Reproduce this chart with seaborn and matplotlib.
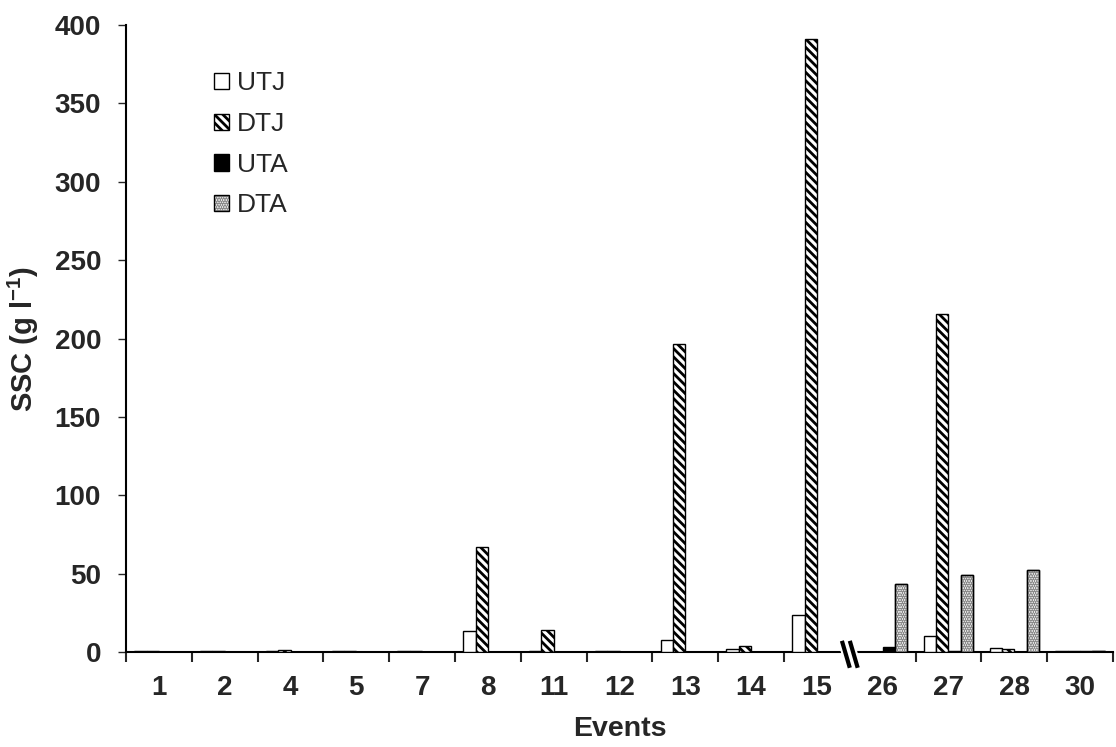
import numpy as np
import pandas as pd
import matplotlib
matplotlib.use("Agg")
import matplotlib.pyplot as plt
import seaborn as sns
from matplotlib.patches import Patch

events = ["1", "2", "4", "5", "7", "8", "11", "12", "13", "14", "15", "26", "27", "28", "30"]
sites = ["UTJ", "DTJ", "UTA", "DTA"]
nan = np.nan
utj = [0.6, 0.6, 0.5, 0.6, 0.6, 13.5, 0.6, 0.6, 8.0, 1.7, 24.0, nan, 10.0, 2.5, 0.5]
dtj = [0.6, 0.6, 1.5, 0.6, 0.6, 67.0, 14.0, 0.6, 196.5, 3.8, 391.0, nan, 215.5, 2.3, 0.5]
uta = [nan, nan, nan, nan, nan, nan, nan, nan, nan, nan, nan, 3.0, 1.0, 0.3, 0.5]
dta = [nan, nan, nan, nan, nan, nan, nan, nan, nan, nan, nan, 43.5, 49.5, 52.5, 0.5]

df = pd.DataFrame({
    "event": events * 4,
    "site": [s for s in sites for _ in events],
    "ssc": utj + dtj + uta + dta,
})

sns.set_theme(style="ticks")
plt.rcParams["font.family"] = ["Liberation Sans", "DejaVu Sans"]
plt.rcParams["mathtext.fontset"] = "custom"
plt.rcParams["mathtext.rm"] = "Liberation Sans"
plt.rcParams["mathtext.bf"] = "Liberation Sans:bold"
plt.rcParams["hatch.linewidth"] = 2.0

fig = plt.figure(figsize=(11.16, 7.47), dpi=100)
ax = fig.add_axes([126 / 1116, 0.127, 987 / 1116, 0.8395])

palette = {"UTJ": "white", "DTJ": "white", "UTA": "black", "DTA": "#f2f2f2"}
sns.barplot(data=df, x="event", y="ssc", hue="site", order=events, hue_order=sites,
            palette=palette, width=0.75, edgecolor="black", linewidth=1.0,
            saturation=1, legend=False, ax=ax, zorder=3)

DTJ_HATCH = "\\\\\\\\"
STIPPLE = "......."
for cont, s in zip(ax.containers, sites):
    for p in cont.patches:
        if s == "DTJ":
            p.set_hatch(DTJ_HATCH)
        p.set_edgecolor("black")
# stipple for DTA: overlay dotted hatch in gray, then black outline
for p in ax.containers[3].patches:
    h = p.get_height()
    if np.isnan(h):
        continue
    cx = p.get_x() + p.get_width() / 2
    ax.bar(cx, h, width=p.get_width(), facecolor="none", edgecolor="#8a8a8a",
           hatch=STIPPLE, linewidth=0, zorder=3.5)
    ax.bar(cx, h, width=p.get_width(), facecolor="none", edgecolor="black",
           linewidth=1.0, zorder=3.6)

ax.set_ylim(0, 400)
ax.set_xlim(-0.5, len(events) - 0.5)
ax.set_yticks(np.arange(0, 401, 50))
ax.tick_params(axis="y", direction="out", length=6, width=1, pad=12, labelsize=20)
for lab in ax.get_yticklabels():
    lab.set_fontweight("bold")
ax.tick_params(axis="x", which="major", length=0, pad=16.5, labelsize=20)
for lab in ax.get_xticklabels():
    lab.set_fontweight("bold")
bounds = [i - 0.5 for i in range(len(events) + 1) if i != 11]
ax.set_xticks(bounds, minor=True)
ax.tick_params(axis="x", which="minor", direction="out", length=7, width=1.5)

sns.despine(ax=ax, top=True, right=True)
for sp in ["left", "bottom"]:
    ax.spines[sp].set_linewidth(1.5)
    ax.spines[sp].set_color("black")

ax.set_xlabel("Events", fontsize=20.5, fontweight="bold", labelpad=11)
ax.set_ylabel(r"SSC (g l$^{\mathbf{-1}}$)", fontsize=21, fontweight="bold", labelpad=10)

# axis break mark
bx = 10.5
trans = ax.get_xaxis_transform()
for off in (-0.06, 0.06):
    ax.plot([bx + off - 0.06, bx + off + 0.06], [0.018, -0.025], transform=trans,
            color="white", lw=6, clip_on=False, zorder=5, solid_capstyle="butt")
for off in (-0.06, 0.06):
    ax.plot([bx + off - 0.06, bx + off + 0.06], [0.018, -0.025], transform=trans,
            color="black", lw=3, clip_on=False, zorder=6, solid_capstyle="butt")

handles = [
    Patch(facecolor="white", edgecolor="black", linewidth=1.0),
    Patch(facecolor="white", edgecolor="black", hatch=DTJ_HATCH, linewidth=1.0),
    Patch(facecolor="black", edgecolor="black", linewidth=1.0),
    (Patch(facecolor="#f2f2f2", edgecolor="#8a8a8a", hatch=STIPPLE, linewidth=0),
     Patch(facecolor="none", edgecolor="black", linewidth=1.0)),
]
ax.legend(handles=handles, labels=sites, loc="upper left", bbox_to_anchor=(0.089, 0.926),
          frameon=False, fontsize=19, handlelength=0.58, handleheight=0.58, handletextpad=0.3,
          labelspacing=0.63, borderpad=0, borderaxespad=0)

fig.savefig("out.png", dpi=100)
